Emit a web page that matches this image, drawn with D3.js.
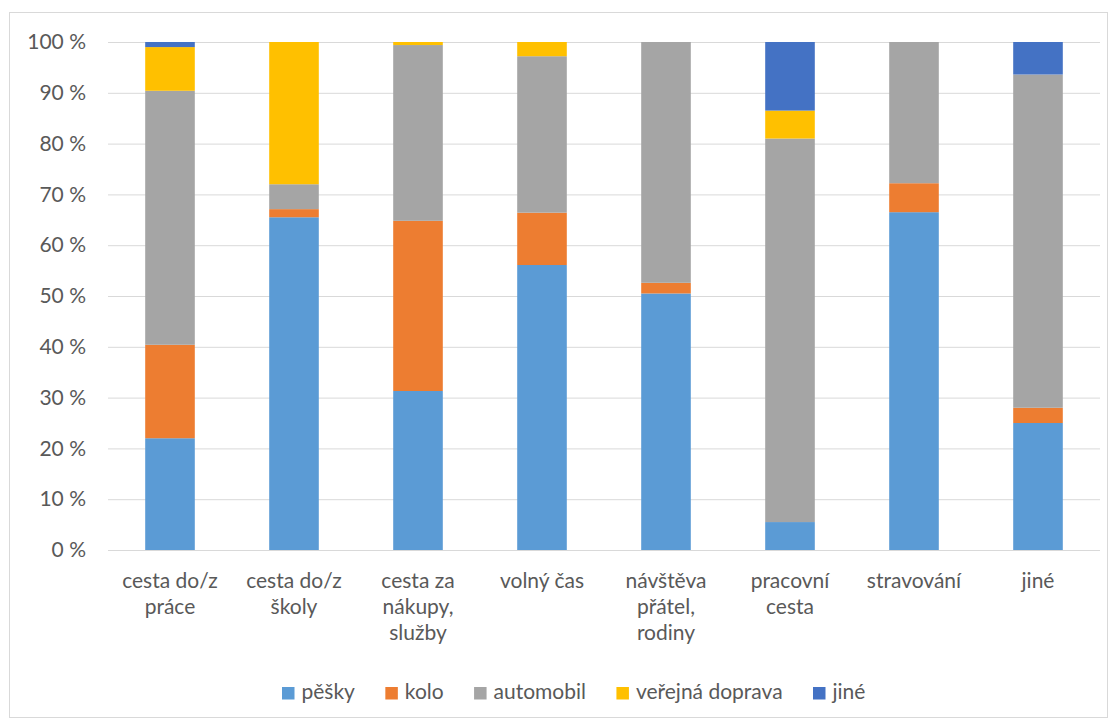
<!DOCTYPE html>
<html><head><meta charset="utf-8">
<script src="https://cdn.jsdelivr.net/npm/d3@7"></script>
<style>body{margin:0;background:#fff}svg{display:block}text{font-family:Lato,"Open Sans",sans-serif;fill:#595959}</style>
</head><body><svg id="c" width="1117" height="724"></svg>
<script>
const categories = ["cesta do/z\npráce","cesta do/z\nškoly","cesta za\nnákupy,\nslužby","volný čas","návštěva\npřátel,\nrodiny","pracovní\ncesta","stravování","jiné"];
const seriesNames = ["pěšky","kolo","automobil","veřejná doprava","jiné"];
const pesky     = [22.0, 65.5, 31.3, 56.1, 50.5, 5.5, 66.5, 25.0];
const kolo      = [18.4, 1.6, 33.5, 10.3, 2.1, 0.0, 5.7, 3.0];
const automobil = [50.0, 4.9, 34.6, 30.8, 47.4, 75.5, 27.8, 65.6];
const verejna   = [8.6, 28.0, 0.6, 2.8, 0.0, 5.5, 0.0, 0.0];
const jine      = [1.0, 0.0, 0.0, 0.0, 0.0, 13.5, 0.0, 6.4];
const yTicks = [0,10,20,30,40,50,60,70,80,90,100];
const colors = ["#5B9BD5","#ED7D31","#A5A5A5","#FFC000","#4472C4"];
const FS = 21;

const svg = d3.select("#c");
svg.append("rect").attr("x",9.5).attr("y",12.5).attr("width",1098).attr("height",705).attr("fill","#fff").attr("stroke","#d9d9d9");

const x = d3.scaleBand().domain(categories).range([108,1100]).paddingInner(0.6).paddingOuter(0.3);
const y = d3.scaleLinear().domain([0,100]).range([550,42]);

const yAxis = svg.append("g").attr("transform","translate(108,0)")
  .call(d3.axisLeft(y).tickValues(yTicks).tickSize(-992).tickFormat(d=>d+" %"));
yAxis.select(".domain").remove();
yAxis.selectAll("line").attr("stroke","#d9d9d9");
yAxis.selectAll("text").attr("x",-22).attr("font-size",FS).style("font-family","Lato").style("fill","#595959");

const rows = categories.map((c,i)=>({cat:c, s0:pesky[i], s1:kolo[i], s2:automobil[i], s3:verejna[i], s4:jine[i]}));
const stack = d3.stack().keys(["s0","s1","s2","s3","s4"])(rows);
svg.append("g").selectAll("g").data(stack).join("g").attr("fill",(d,i)=>colors[i])
  .selectAll("rect").data(d=>d).join("rect")
  .attr("x",d=>x(d.data.cat)).attr("width",x.bandwidth())
  .attr("y",d=>y(d[1])).attr("height",d=>Math.max(0,y(d[0])-y(d[1])));

svg.append("line").attr("x1",108).attr("x2",1100).attr("y1",y(0)+0.5).attr("y2",y(0)+0.5).attr("stroke","#d9d9d9");

const xl = svg.append("g");
categories.forEach(c=>{
  const cx = x(c)+x.bandwidth()/2;
  const t = xl.append("text").attr("text-anchor","middle").attr("font-size",FS).attr("y",588);
  c.split("\n").forEach((ln,k)=>t.append("tspan").attr("x",cx).attr("dy",k?26:0).text(ln));
});

// legend
const lg = svg.append("g");
const widths = seriesNames.map(n=>{const t=lg.append("text").attr("font-size",FS).text(n);const w=t.node().getComputedTextLength();t.remove();return w;});
const sq=12.5, gapT=7;
const startX=282, lastX=813;
const gapI = (lastX-startX - d3.sum(widths.slice(0,4)) - 4*(sq+gapT))/4;
let lx = startX;
seriesNames.forEach((n,i)=>{
  lg.append("rect").attr("x",lx).attr("y",687).attr("width",sq).attr("height",sq).attr("fill",colors[i]);
  lg.append("text").attr("x",lx+sq+gapT).attr("y",699).attr("font-size",FS).text(n);
  lx += sq+gapT+widths[i]+gapI;
});
</script></body></html>
